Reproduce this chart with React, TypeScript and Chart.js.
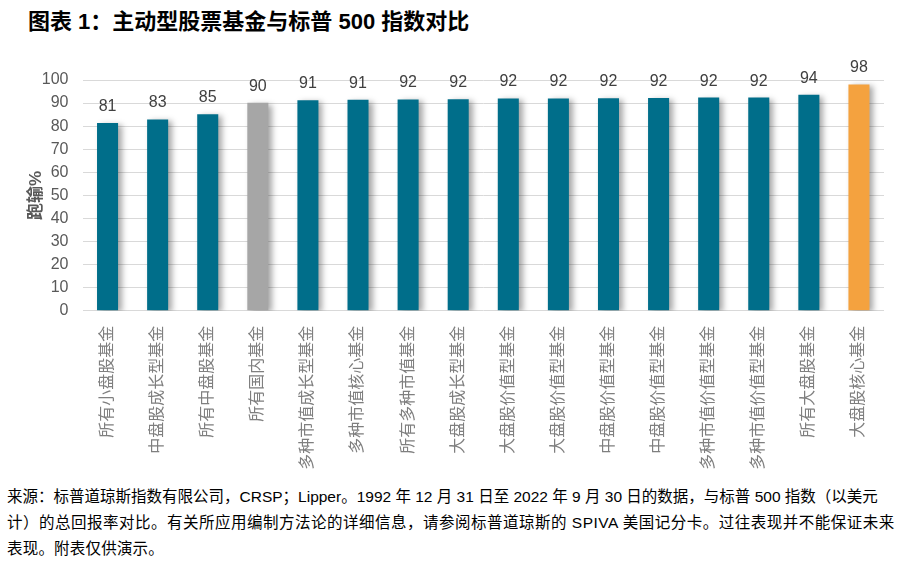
import React, { useEffect, useRef } from "react";
import { Chart, registerables } from "chart.js";

Chart.register(...registerables);

const categories = [
  "所有小盘股基金",
  "中盘股成长型基金",
  "所有中盘股基金",
  "所有国内基金",
  "多种市值成长型基金",
  "多种市值核心基金",
  "所有多种市值基金",
  "大盘股成长型基金",
  "大盘股价值型基金",
  "大盘股价值型基金",
  "中盘股价值型基金",
  "中盘股价值型基金",
  "多种市值价值型基金",
  "多种市值价值型基金",
  "所有大盘股基金",
  "大盘股核心基金",
];

const values = [81.4, 82.9, 85.2, 90.1, 91.2, 91.4, 91.6, 91.7, 92.0, 92.0, 92.1, 92.2, 92.4, 92.4, 93.6, 98.1];
const valueLabels = ["81", "83", "85", "90", "91", "91", "92", "92", "92", "92", "92", "92", "92", "92", "94", "98"];
const barKinds = ["m", "m", "m", "g", "m", "m", "m", "m", "m", "m", "m", "m", "m", "m", "m", "h"];
const yTicks = [0, 10, 20, 30, 40, 50, 60, 70, 80, 90, 100];

const titleText = "图表 1：主动型股票基金与标普 500 指数对比";
const yTitle = "跑输%";
const footLines = [
  "来源：标普道琼斯指数有限公司，CRSP；Lipper。1992 年 12 月 31 日至 2022 年 9 月 30 日的数据，与标普 500 指数（以美元",
  "计）的总回报率对比。有关所应用编制方法论的详细信息，请参阅标普道琼斯的 SPIVA 美国记分卡。过往表现并不能保证未来",
  "表现。附表仅供演示。",
];
const footSpacing = [0, 0.5, 0.2];

const COLORS: Record<string, string> = { m: "#006E8A", g: "#A6A6A6", h: "#F4A23F" };
const FONT = "'Liberation Sans', Arial, 'Noto Sans CJK SC', sans-serif";

export default function App() {
  const ref = useRef<HTMLCanvasElement | null>(null);

  useEffect(() => {
    if (!ref.current) return;
    const shadowPlugin = {
      id: "barShadow",
      beforeDatasetsDraw(chart: any) {
        const ctx = chart.ctx;
        ctx.save();
        ctx.shadowColor = "rgba(0,0,0,0.35)";
        ctx.shadowBlur = 6;
        ctx.shadowOffsetX = 4;
        ctx.shadowOffsetY = 2;
      },
      afterDatasetsDraw(chart: any) {
        chart.ctx.restore();
      },
    };
    const labelPlugin = {
      id: "valueLabels",
      afterDraw(chart: any) {
        const ctx = chart.ctx;
        const meta = chart.getDatasetMeta(0);
        ctx.save();
        ctx.font = `16px ${FONT}`;
        ctx.fillStyle = "#404040";
        ctx.textAlign = "center";
        ctx.textBaseline = "alphabetic";
        meta.data.forEach((bar: any, i: number) => {
          ctx.fillText(valueLabels[i], bar.x, bar.y - 12);
        });
        ctx.restore();
      },
    };
    const chart = new Chart(ref.current, {
      type: "bar",
      data: {
        labels: categories,
        datasets: [
          {
            data: values,
            backgroundColor: barKinds.map((k) => COLORS[k]),
            barPercentage: 0.42,
            categoryPercentage: 1,
            borderWidth: 0,
          },
        ],
      },
      options: {
        animation: false,
        responsive: true,
        maintainAspectRatio: false,
        layout: { padding: { top: 80, right: 29, left: 0, bottom: 0 } },
        plugins: {
          legend: { display: false },
          tooltip: { enabled: false },
          title: { display: false },
        },
        scales: {
          x: {
            grid: { display: false },
            border: { display: false },
            ticks: {
              color: "#7F7F7F",
              font: { size: 16, family: FONT },
              minRotation: 90,
              maxRotation: 90,
              autoSkip: false,
              padding: 7,
            },
            afterFit(scale: any) {
              scale.height = 169.3;
            },
          },
          y: {
            min: 0,
            max: 100,
            afterBuildTicks(scale: any) {
              scale.ticks = yTicks.map((v) => ({ value: v }));
            },
            grid: { color: "#D9D9D9", lineWidth: 1, drawTicks: false },
            border: { display: false },
            ticks: {
              color: "#595959",
              font: { size: 16, family: FONT },
              padding: 14,
            },
            title: {
              display: true,
              text: yTitle,
              color: "#595959",
              font: { size: 17, weight: "bold", family: FONT },
              padding: { top: 26, bottom: 0 },
            },
            afterFit(scale: any) {
              scale.width = 82.5;
            },
          },
        },
      },
      plugins: [shadowPlugin, labelPlugin],
    } as any);
    return () => chart.destroy();
  }, []);

  return (
    <div
      style={{
        position: "absolute",
        left: 0,
        top: 0,
        width: 913,
        height: 576,
        background: "#fff",
        fontFamily: FONT,
        overflow: "hidden",
      }}
    >
      <div
        style={{
          position: "absolute",
          left: 28,
          top: 9,
          fontSize: 22,
          lineHeight: "26px",
          fontWeight: 700,
          color: "#000",
          whiteSpace: "nowrap",
        }}
      >
        {titleText}
      </div>
      <div style={{ position: "absolute", left: 0, top: 0, width: 913, height: 480 }}>
        <canvas ref={ref} />
      </div>
      <div
        style={{
          position: "absolute",
          left: 7,
          top: 484,
          fontSize: 15.5,
          lineHeight: "26px",
          color: "#000",
        }}
      >
        {footLines.map((l, i) => (
          <div key={i} style={{ whiteSpace: "nowrap", letterSpacing: footSpacing[i] }}>
            {l}
          </div>
        ))}
      </div>
    </div>
  );
}
